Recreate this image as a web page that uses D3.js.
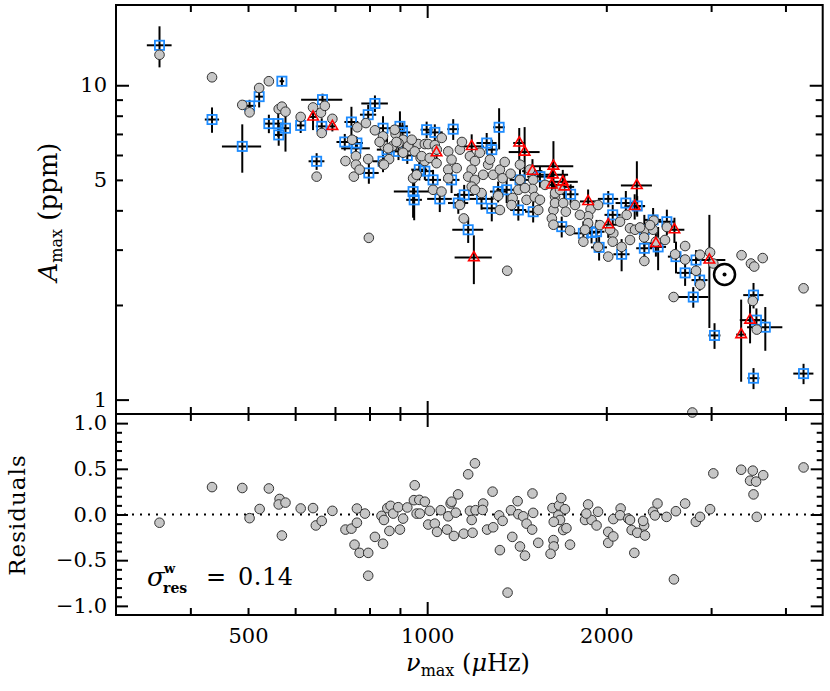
<!DOCTYPE html>
<html><head><meta charset="utf-8">
<script src="https://cdn.jsdelivr.net/npm/d3@7/dist/d3.min.js"></script>
<style>body{margin:0;background:#fff}svg{display:block}</style>
</head><body>
<svg id="c" width="830" height="691"></svg>
<script>
// ---- data: grey circles [nu (uHz), Amax (ppm)]
const circles = [
[355,12.5],[435,10.6],[489,8.66],[503,8.2],[522,9.8],[542,10.3],[563,8.4],[570,8.55],[578,8.24],
[613,7.93],[643,8.5],[663,8.18],[673,8.6],[665,7.05],[652,5.12],[693,7.82],[763,7.35],[748,6.71],
[759,5.95],[729,5.74],[759,5.59],[753,5.12],[770,5.39],[789,7.58],[796,5.82],[798,3.27],[817,7.19],
[843,6.88],[848,6.4],[843,5.62],[874,6.4],[911,6.71],[895,6.55],[926,6.36],[947,5.06],[885,7.0],
[888,6.6],[860,6.3],[929,6.4],[966,6.5],[991,6.5],[953,6.16],[975,5.87],[991,5.74],[863,5.82],
[846,5.59],[960,5.19],[1004,6.5],[1030,6.45],[979,5.95],[1010,5.87],[1037,5.65],[1085,6.16],
[1099,5.8],[1085,5.39],[1121,5.45],[1180,5.95],[1203,5.74],[1188,5.39],[1172,5.12],[1203,5.0],
[1242,5.19],[1266,5.59],[1291,5.19],[1325,5.39],[1339,5.06],[1381,5.23],[1432,5.0],[1423,4.65],
[1392,4.38],[1386,4.16],[1469,4.32],[1507,5.0],[1503,4.68],[1516,4.41],[1537,4.01],[1325,4.01],
[1316,4.45],[1234,4.54],[1188,4.76],[1085,5.06],[1023,4.65],[1057,4.59],[1152,3.77],[1363,2.57],
[1640,4.43],[1630,4.01],[1620,3.77],[1630,3.6],[1640,4.22],[1640,4.54],[1693,4.22],[1710,3.96],
[1738,3.45],[1882,4.03],[1864,3.83],[1864,3.64],[1937,4.16],[1830,3.18],[1937,3.06],[2015,2.85],
[2055,3.38],[2050,3.18],[2109,3.68],[2164,3.87],[2192,3.51],[2235,3.47],[2122,3.06],[2323,3.47],
[2315,3.28],[2403,3.71],[2397,3.47],[2423,3.18],[2528,3.54],[2317,2.76],[2610,2.9],[2713,3.08],
[2713,2.79],[2830,2.57],[2595,2.12],[2988,2.94],[3026,2.71],[3375,2.88],[3500,2.71],[3545,2.65],
[3663,2.82],[4290,2.26],[2876,2.32],[3525,2.06],[3580,1.67],[2790,0.91],
[911,6.1],[942,6.71],[882,7.22],[832,6.6],[1038,6.24],[1058,6.8],[1135,6.24],[1144,6.6],[1226,6.1],
[1275,5.8],[1350,5.7],[1432,5.59],[1488,5.39],[1578,4.82],[1672,4.65],[1772,4.16],[1806,3.87],
[1951,3.59],[2279,3.53],[2510,3.22],[2874,2.89],[1203,4.65],[1135,4.16],[1460,4.71],[1547,4.32],
[1842,3.47],[2029,3.47],[2192,3.22],[2369,3.59]
];
// blue squares [nu, Amax, nuErr, AErr]
const squares = [
[355,13.4,17,2.0],[435,7.78,12,0.72],[489,6.39,37,1.12],[503,8.6,12,0.39],[522,9.2,10,0.7],
[570,10.3,5,0.38],[542,7.55,10,0.51],[562,7.55,11,0.7],[563,6.95,9,0.53],[578,7.3,11,1.15],
[613,7.45,12,0.4],[667,9.0,53,0.4],[665,7.4,15,0.45],[652,5.73,20,0.35],[727,6.6,23,0.4],
[746,7.64,20,0.9],[759,6.3,42,0.58],[796,8.06,25,0.6],[817,8.75,42,0.53],[798,5.26,31,0.4],
[843,7.3,26,0.67],[856,6.24,33,0.57],[900,7.4,28,0.86],[909,7.08,28,0.54],[926,5.98,29,0.36],
[947,4.59,68,0.8],[951,4.32,29,0.6],[762,6.55,18,0.3],[843,5.73,33,0.44],[895,6.16,28,0.38],
[998,7.22,23,0.44],[970,5.39,30,0.41],[991,5.33,31,0.33],[1030,7.08,32,0.43],[1106,7.25,25,0.55],
[1321,7.35,30,1.1],[1259,6.55,49,0.5],[1284,6.24,30,0.47],[1023,5.0,32,0.38],[1099,5.0,34,0.46],
[1050,4.35,50,0.4],[1128,4.22,44,0.32],[1154,4.48,45,0.34],[1234,4.35,59,0.33],[1284,4.06,50,0.37],
[1316,4.59,41,0.35],[1360,4.65,53,0.43],[1423,4.01,44,0.3],[1432,5.0,56,0.38],[1507,3.96,47,0.3],
[1547,5.12,74,0.39],[1172,3.47,70,0.32],[1742,4.5,54,0.34],[1683,3.55,52,0.27],[1830,3.38,71,0.31],
[1889,3.40,59,0.26],[1926,3.42,60,0.31],[1945,3.05,60,0.28],[2015,4.35,79,0.26],[2050,3.87,64,0.29],
[2157,4.22,84,0.39],[2254,4.13,70,0.31],[2122,2.9,66,0.34],[2317,3.47,72,0.4],[2317,3.03,72,0.35],
[2397,3.73,74,0.34],[2444,3.06,76,0.48],[2528,3.68,78,0.34],[2619,2.85,81,0.33],[2713,2.53,84,0.23],
[2830,2.78,88,0.21],[2800,2.12,168,0.16],[2870,2.4,89,0.18],[3040,1.6,70,0.15],[3535,2.15,138,0.2],
[3575,1.79,111,0.16],[3700,1.70,252,0.27],[3535,1.17,81,0.09],[4290,1.21,167,0.09]
];
// red triangles [nu, Amax, nuErr, AErr]
const triangles = [
[643,7.93,10,0.73],[693,7.4,8,0.27],[1188,6.39,57,0.59],[1428,6.55,33,0.76],[1458,6.13,87,1.23],
[1503,5.33,59,0.49],[1630,5.53,130,1.11],[1627,5.19,98,0.6],[1620,4.82,63,0.56],[1690,4.93,101,0.45],
[1700,4.75,66,0.44],[2251,4.8,135,0.93],[1864,4.27,58,0.39],[2232,4.12,87,0.38],[2015,3.6,79,0.33],
[2423,3.14,95,0.29],[2603,3.47,102,0.32],[2980,2.78,190,1.09],[3488,1.79,136,0.28],[3370,1.61,64,0.47],
[1198,2.83,86,0.5],[1037,6.1,10,0.37]
];
// residuals [nu, residual]
const residuals = [
[355,-0.09],[435,0.30],[489,0.29],[503,-0.04],[523,0.06],[542,0.285],[565,0.17],[563,0.11],[578,0.13],
[570,-0.23],[613,0.066],[643,0.07],[650,-0.12],[665,-0.07],[693,0.04],[729,-0.165],[746,-0.155],
[762,0.065],[762,-0.09],[755,-0.33],[770,-0.42],[786,0.01],[796,-0.42],[796,-0.67],[817,-0.245],
[838,-0.015],[843,-0.32],[846,-0.06],[857,0.07],[868,0.095],[864,-0.18],[877,0.01],[894,0.08],
[900,-0.165],[911,-0.045],[926,0.077],[950,0.157],[953,0.32],[960,0.01],[970,0.16],[972,0.01],
[991,0.14],[1010,0.04],[1004,-0.11],[1030,-0.10],[1039,-0.19],[1054,0.047],[1080,-0.165],[1085,-0.02],
[1095,0.12],[1099,0.14],[1117,0.02],[1127,0.22],[1109,-0.235],[1152,-0.21],[1192,-0.20],[1172,0.44],
[1203,0.56],[1180,0.04],[1188,-0.06],[1206,0.047],[1242,0.12],[1239,0.05],[1261,-0.165],[1291,-0.14],
[1288,0.25],[1321,-0.01],[1339,-0.07],[1325,-0.39],[1365,-0.855],[1390,-0.245],[1383,0.047],
[1419,0.146],[1423,0.003],[1432,-0.35],[1450,-0.02],[1469,-0.10],[1460,-0.45],[1503,0.23],[1507,0.018],
[1501,-0.165],[1537,-0.31],[1624,0.07],[1666,0.10],[1680,0.18],[1704,0.058],[1661,-0.01],[1672,-0.06],
[1693,-0.17],[1714,-0.15],[1632,-0.08],[1630,-0.28],[1632,-0.35],[1612,-0.43],[1738,-0.33],[1864,0.11],
[1842,-0.06],[1889,-0.06],[1937,0.03],[1926,-0.12],[1851,0.01],[2015,-0.19],[2015,-0.31],[2055,-0.24],
[2055,-0.05],[2114,0.066],[2109,-0.008],[2177,-0.045],[2192,-0.06],[2206,-0.17],[2254,-0.20],
[2323,-0.23],[2315,-0.12],[2306,-0.07],[2229,-0.42],[2397,0.03],[2414,-0.01],[2438,0.12],[2525,-0.026],
[2618,0.036],[2713,0.12],[2598,-0.71],[2828,-0.08],[2874,-0.026],[2988,0.058],[3026,0.45],[3370,0.49],
[3525,0.48],[3488,0.37],[3570,0.36],[3670,0.43],[3535,0.22],[3580,-0.026],[4290,0.515]
];
const sun = [3160, 2.5];
const xTickLabels = [500, 1000, 2000];
const xMinorTicks = [400, 500, 600, 700, 800, 900, 2000, 3000, 4000];
const xMajorTicks = [1000];
const yTopLabels = [1, 5, 10];
const yTopMajor = [1, 10];
const yTopMinor = [2, 3, 4, 5, 6, 7, 8, 9];
const yResLabels = [-1.0, -0.5, 0.0, 0.5, 1.0];
const sigmaText = "0.14";

// ---- layout
const L = 116, R = 822.7, T = 5, M = 414, B = 615;
const FONT = "DejaVu Serif";
const svg = d3.select("#c");
const x = d3.scaleLog().domain([300, 4620]).range([L, R]);
const yT = d3.scaleLog().domain([0.9, 18]).range([M, T]);
const yR = d3.scaleLinear().domain([-1.1, 1.1]).range([B, M]);

function styleAxis(g) {
  g.select(".domain").remove();
  g.selectAll(".tick line").attr("stroke", "#000").attr("stroke-width", 2);
  g.selectAll("text").attr("font-family", FONT).attr("fill", "#000").attr("font-size", 21);
}
function addAxis(axis, tx, ty) {
  svg.append("g").attr("transform", `translate(${tx},${ty})`).call(axis).call(styleAxis);
}
// x ticks on all four horizontal edges
[[M, -1], [B, -1], [T, 1], [M, 1]].forEach(([yy, dir]) => {
  const mk = dir < 0 ? d3.axisBottom : d3.axisTop;
  addAxis(mk(x).tickValues(xMinorTicks).tickSize(-7).tickFormat(""), 0, yy);
  addAxis(mk(x).tickValues(xMajorTicks).tickSize(-13).tickFormat(""), 0, yy);
});
// x labels
addAxis(d3.axisBottom(x).tickValues(xTickLabels).tickSize(0).tickPadding(13)
  .tickFormat(d3.format("d")), 0, B);
// top-panel y ticks (left and right)
addAxis(d3.axisLeft(yT).tickValues(yTopMinor).tickSize(-7).tickFormat(""), L, 0);
addAxis(d3.axisLeft(yT).tickValues(yTopMajor).tickSize(-13).tickFormat(""), L, 0);
addAxis(d3.axisRight(yT).tickValues(yTopMinor).tickSize(-7).tickFormat(""), R, 0);
addAxis(d3.axisRight(yT).tickValues(yTopMajor).tickSize(-13).tickFormat(""), R, 0);
addAxis(d3.axisLeft(yT).tickValues(yTopLabels).tickSize(0).tickPadding(9).tickFormat(d3.format("d")), L, 0);
// residual y ticks
const resMinor = d3.range(-10, 11).filter(i => i % 5 !== 0).map(i => i / 10);
addAxis(d3.axisLeft(yR).tickValues(resMinor).tickSize(-6).tickFormat(""), L, 0);
addAxis(d3.axisLeft(yR).tickValues(yResLabels).tickSize(-12).tickFormat(""), L, 0);
addAxis(d3.axisRight(yR).tickValues(resMinor).tickSize(-6).tickFormat(""), R, 0);
addAxis(d3.axisRight(yR).tickValues(yResLabels).tickSize(-12).tickFormat(""), R, 0);
addAxis(d3.axisLeft(yR).tickValues(yResLabels).tickSize(0).tickPadding(9)
  .tickFormat(d => d3.format(".1f")(d).replace("-", "\u2212")), L, 0);

// zero line
svg.append("line").attr("x1", L).attr("x2", R).attr("y1", yR(0)).attr("y2", yR(0))
  .attr("stroke", "#000").attr("stroke-width", 2).attr("stroke-dasharray", "2,6");

// error bars
const eb = svg.append("g").attr("stroke", "#000").attr("stroke-width", 2);
[...squares, ...triangles].forEach(d => {
  eb.append("line").attr("x1", x(d[0] - d[2])).attr("x2", x(d[0] + d[2]))
    .attr("y1", yT(d[1])).attr("y2", yT(d[1]));
  eb.append("line").attr("x1", x(d[0])).attr("x2", x(d[0]))
    .attr("y1", yT(d[1] - d[3])).attr("y2", yT(d[1] + d[3]));
});
// squares
svg.append("g").selectAll("rect").data(squares).join("rect")
  .attr("x", d => x(d[0]) - 4.6).attr("y", d => yT(d[1]) - 4.6)
  .attr("width", 9.2).attr("height", 9.2)
  .attr("fill", "none").attr("stroke", "#1e8cff").attr("stroke-width", 1.8);
// circles
svg.append("g").selectAll("circle").data(circles).join("circle")
  .attr("cx", d => x(d[0])).attr("cy", d => yT(d[1])).attr("r", 4.8)
  .attr("fill", "#c6c6c6").attr("stroke", "#333").attr("stroke-width", 1);
// triangles
const tri = d3.symbol().type(d3.symbolTriangle).size(48);
svg.append("g").selectAll("path").data(triangles).join("path")
  .attr("d", tri).attr("transform", d => `translate(${x(d[0])},${yT(d[1])})`)
  .attr("fill", "none").attr("stroke", "#ff0000").attr("stroke-width", 1.6);
// sun
svg.append("circle").attr("cx", x(sun[0])).attr("cy", yT(sun[1])).attr("r", 10.5)
  .attr("fill", "none").attr("stroke", "#000").attr("stroke-width", 2.5);
svg.append("circle").attr("cx", x(sun[0])).attr("cy", yT(sun[1])).attr("r", 2).attr("fill", "#000");

// residual points
svg.append("g").selectAll("circle").data(residuals).join("circle")
  .attr("cx", d => x(d[0])).attr("cy", d => yR(d[1])).attr("r", 4.8)
  .attr("fill", "#c6c6c6").attr("stroke", "#333").attr("stroke-width", 1);

// frames
[[T, M], [M, B]].forEach(([a, b]) => {
  svg.append("rect").attr("x", L).attr("y", a).attr("width", R - L).attr("height", b - a)
    .attr("fill", "none").attr("stroke", "#000").attr("stroke-width", 2);
});

// axis titles
const yl = svg.append("text").attr("transform", "translate(57,212) rotate(-90)")
  .attr("text-anchor", "middle").attr("font-family", FONT).attr("font-size", 26);
yl.append("tspan").attr("font-style", "italic").text("A");
yl.append("tspan").attr("font-size", 16).attr("dy", 5).text("max");
yl.append("tspan").attr("dy", -5).text("\u00a0(ppm)");

svg.append("text").attr("transform", "translate(25,515) rotate(-90)")
  .attr("text-anchor", "middle").attr("font-family", FONT).attr("font-size", 23)
  .attr("letter-spacing", 1).text("Residuals");

const xl = svg.append("text").attr("x", 468).attr("y", 671).attr("text-anchor", "middle")
  .attr("font-family", FONT).attr("font-size", 24);
xl.append("tspan").attr("font-style", "italic").text("\u03bd");
xl.append("tspan").attr("font-size", 16).attr("dy", 5).text("max");
xl.append("tspan").attr("dy", -5).text("\u00a0(");
xl.append("tspan").attr("font-style", "italic").text("\u03bc");
xl.append("tspan").text("Hz)");

// sigma annotation
svg.append("text").attr("x", 147).attr("y", 586).attr("font-family", FONT)
  .attr("font-size", 26).attr("font-style", "italic").text("\u03c3");
svg.append("text").attr("x", 164).attr("y", 573).attr("font-family", FONT)
  .attr("font-size", 13).attr("font-weight", "bold").text("w");
svg.append("text").attr("x", 163).attr("y", 593).attr("font-family", FONT)
  .attr("font-size", 14).attr("font-weight", "bold").text("res");
svg.append("text").attr("x", 206).attr("y", 585).attr("font-family", FONT)
  .attr("font-size", 24).text("=");
svg.append("text").attr("x", 238).attr("y", 585).attr("font-family", FONT)
  .attr("font-size", 24).attr("letter-spacing", 0.5).text(sigmaText);
</script>
</body></html>
